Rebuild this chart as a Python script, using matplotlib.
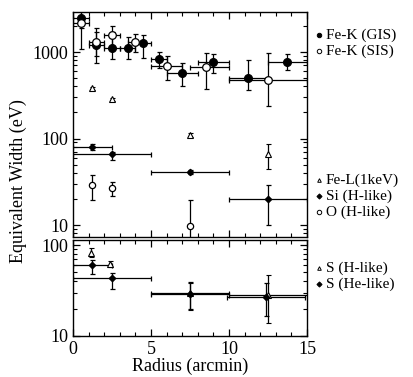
import matplotlib
matplotlib.use("Agg")
import matplotlib.pyplot as plt
import numpy as np
from matplotlib.lines import Line2D
from matplotlib.ticker import FixedLocator, NullFormatter, LogLocator

plt.rcParams['font.family'] = ['Liberation Serif', 'DejaVu Serif']

# Fe-K (GIS)
gis_x = [0.5, 1.5, 2.5, 3.5, 4.5, 5.5, 7.0, 9.0, 11.25, 13.75]
gis_xlo = [0.0, 1.0, 2.0, 3.0, 4.0, 5.0, 6.0, 8.0, 10.0, 12.5]
gis_xhi = [1.0, 2.0, 3.0, 4.0, 5.0, 6.0, 8.0, 10.0, 12.5, 15.0]
gis_y = [2450, 1220, 1120, 1120, 1260, 825, 575, 760, 505, 773]
gis_lo = [1900, 740, 825, 820, 850, 650, 400, 570, 360, 615]
gis_hi = [3500, 1880, 1720, 1500, 1590, 1000, 740, 950, 810, 950]

# Fe-K (SIS)
sis_x = [0.5, 1.5, 2.5, 4.0, 6.0, 8.5, 12.5]
sis_xlo = [0.0, 1.0, 2.0, 3.5, 5.0, 7.5, 10.0]
sis_xhi = [1.0, 2.0, 3.0, 4.5, 7.0, 10.0, 15.0]
sis_y = [2150, 1320, 1570, 1320, 680, 665, 475]
sis_lo = [1080, 900, 1100, 1010, 470, 370, 235]
sis_hi = [3300, 1700, 2000, 1600, 890, 970, 970]

# Fe-L (1 keV)
fel_x = [1.25, 2.5, 7.5, 12.5]
fel_y = [380, 284, 110, 66]
fel_lo = [365, 272, 104, 44]
fel_hi = [395, 296, 116, 86]

# Si (H-like)
si_x = [1.25, 2.5, 7.5, 12.5]
si_xerr = [1.25, 2.5, 2.5, 2.5]
si_y = [80, 66, 40.6, 19.8]
si_lo = [74, 57, 38.5, 10]
si_hi = [86, 70, 43, 29]

# O (H-like)
o_x = [1.25, 2.5, 7.5]
o_y = [29, 26.5, 9.7]
o_lo = [19.5, 21.6, 5]
o_hi = [37.8, 31.7, 19.5]

# S (H-like)
sh_x = [1.15, 2.4, 7.5, 12.5]
sh_xerr = [0, 0, 2.5, 2.5]
sh_y = [82, 62.6, 30, 28]
sh_lo = [74, 58, 19.5, 13.9]
sh_hi = [92, 67, 38, 46.8]

# S (He-like)
she_x = [1.25, 2.5, 7.5, 12.4]
she_xerr = [1.25, 2.5, 2.5, 2.5]
she_y = [60, 43.7, 29, 27]
she_lo = [48.5, 33, 19.8, 16.6]
she_hi = [68, 49.7, 39, 38.3]


def yerr(y, lo, hi):
    y = np.array(y, float)
    return [y - np.array(lo, float), np.array(hi, float) - y]


W, H = 414, 377
fig = plt.figure(figsize=(W / 100, H / 100), dpi=100)
ax1 = fig.add_axes([73 / W, 1 - 237 / H, 234 / W, 225 / H])
ax2 = fig.add_axes([73 / W, 1 - 336 / H, 234 / W, 96 / H])

kw = dict(ecolor='black', elinewidth=0.9, capsize=1.8, capthick=0.9, linestyle='none')

# top panel
ax1.errorbar(gis_x, gis_y, yerr=yerr(gis_y, gis_lo, gis_hi),
             xerr=[np.subtract(gis_x, gis_xlo), np.subtract(gis_xhi, gis_x)],
             marker='o', ms=5.5, mfc='black', mec='black', **kw)
ax1.errorbar(sis_x, sis_y, yerr=yerr(sis_y, sis_lo, sis_hi),
             xerr=[np.subtract(sis_x, sis_xlo), np.subtract(sis_xhi, sis_x)],
             marker='o', ms=5.5, mfc='white', mec='black', mew=0.9, **kw)
ax1.errorbar(fel_x, fel_y, yerr=yerr(fel_y, fel_lo, fel_hi),
             marker='^', ms=3.8, mfc='white', mec='black', mew=0.8, **kw)
ax1.errorbar(si_x, si_y, yerr=yerr(si_y, si_lo, si_hi), xerr=si_xerr,
             marker='D', ms=3.2, mfc='black', mec='black', **kw)
ax1.errorbar(o_x, o_y, yerr=yerr(o_y, o_lo, o_hi),
             marker='o', ms=4.5, mfc='white', mec='black', mew=0.9, **kw)

# bottom panel
ax2.errorbar(sh_x, sh_y, yerr=yerr(sh_y, sh_lo, sh_hi), xerr=sh_xerr,
             marker='^', ms=3.8, mfc='white', mec='black', mew=0.8, **kw)
ax2.errorbar(she_x, she_y, yerr=yerr(she_y, she_lo, she_hi), xerr=she_xerr,
             marker='D', ms=3.2, mfc='black', mec='black', **kw)

ax1.set_yscale('log')
ax2.set_yscale('log')
ax1.set_ylim(7.27, 2900)
ax2.set_ylim(10, 113.5)

for ax in (ax1, ax2):
    ax.set_xlim(0, 15)
    ax.xaxis.set_major_locator(FixedLocator([0, 5, 10, 15]))
    ax.xaxis.set_minor_locator(FixedLocator(np.arange(0, 16, 1)))
    ax.yaxis.set_minor_locator(LogLocator(base=10, subs=np.arange(2, 10)))
    ax.yaxis.set_minor_formatter(NullFormatter())
    ax.tick_params(which='both', direction='in', top=True, right=True, labelsize=13)
    ax.tick_params(which='major', length=5, width=0.9)
    ax.tick_params(which='minor', length=3, width=0.8)
    for s in ax.spines.values():
        s.set_linewidth(1.0)

ax1.set_yticks([10, 100, 1000])
ax1.set_yticklabels(['10', '100', '1000'])
ax1.tick_params(labelbottom=False)
ax2.set_yticks([10, 100])
ax2.set_yticklabels(['10', '100'])
ax2.set_xlabel('Radius (arcmin)', fontsize=13, labelpad=0)

fig.text(0.045, 0.52, 'Equivalent Width (eV)', rotation=90, fontsize=13,
         ha='center', va='center')

# legend entries drawn by hand at the right
leg = [('o', 'black', 'Fe-K (GIS)', 35),
       ('o', 'white', 'Fe-K (SIS)', 51),
       ('^', 'white', 'Fe-L(1keV)', 180),
       ('D', 'black', 'Si (H-like)', 196),
       ('o', 'white', 'O (H-like)', 212),
       ('^', 'white', 'S (H-like)', 268),
       ('D', 'black', 'S (He-like)', 284)]
for m, fc, lab, yp in leg:
    yf = 1 - yp / H
    size = 3.2 if m == 'o' else 2.6
    fig.add_artist(Line2D([319 / W], [yf], marker=m, ms=size, mfc=fc, mec='black',
                          mew=0.7, linestyle='none', transform=fig.transFigure))
    fig.text(326 / W, yf, lab, fontsize=11, va='center', ha='left')

fig.savefig('out.png', dpi=100)
